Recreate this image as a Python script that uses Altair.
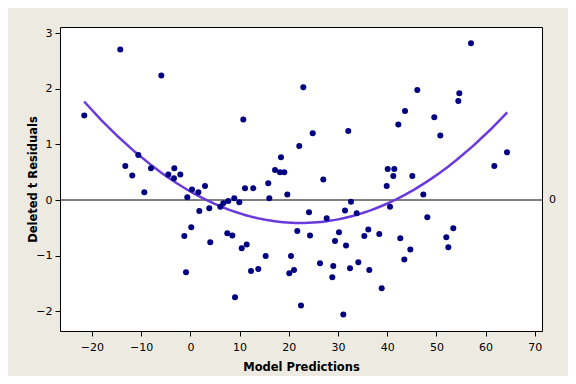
import altair as alt
import pandas as pd

# Scatter data: model predictions (x) and deleted t residuals (y)
pred = [-14.25, -5.91, -21.57, -10.59, -13.23, -8.01, -3.27, -11.81, -4.49, -3.33,
        -2.05, -9.37, 0.33, 1.61, 2.97, -0.63, 1.81, 3.84, 6.08, 6.69,
        7.70, 0.18, -1.24, 4.04, 7.50, -0.89, 18.41, 17.20, 18.21, 19.09,
        15.83, 11.10, 12.78, 16.04, 19.70, 27.01, 40.10, 39.90, 8.92, 9.94,
        32.64, 31.42, 33.80, 24.11, 27.70, 40.57, 8.52, 21.73, 24.31, 30.20,
        29.39, 31.63, 36.16, 35.35, 38.39, 10.43, 11.44, 15.30, 20.45, 26.34,
        29.04, 32.44, 34.13, 36.36, 12.32, 13.80, 20.10, 21.06, 28.84, 38.88,
        9.07, 22.48, 31.08, 22.95, 10.75, 24.86, 32.09, 22.13, 57.03, 46.12,
        54.65, 54.45, 43.62, 42.26, 49.57, 50.79, 64.35, 61.77, 41.44, 41.24,
        45.10, 47.34, 48.15, 42.66, 53.43, 52.01, 52.42, 44.70, 43.48]
resid = [2.71, 2.24, 1.52, 0.81, 0.61, 0.57, 0.57, 0.44, 0.46, 0.39,
         0.46, 0.14, 0.19, 0.14, 0.25, 0.05, -0.20, -0.15, -0.12, -0.06,
         -0.02, -0.49, -0.65, -0.76, -0.60, -1.30, 0.77, 0.54, 0.50, 0.50,
         0.30, 0.21, 0.21, 0.03, 0.10, 0.37, 0.56, 0.25, 0.03, -0.04,
         -0.03, -0.19, -0.24, -0.22, -0.33, -0.12, -0.64, -0.56, -0.64, -0.58,
         -0.74, -0.82, -0.53, -0.65, -0.61, -0.87, -0.80, -1.01, -1.01, -1.14,
         -1.19, -1.23, -1.12, -1.26, -1.28, -1.24, -1.32, -1.26, -1.39, -1.59,
         -1.75, -1.90, -2.06, 2.03, 1.45, 1.20, 1.24, 0.97, 2.82, 1.98,
         1.92, 1.78, 1.60, 1.36, 1.49, 1.16, 0.86, 0.61, 0.56, 0.43,
         0.43, 0.10, -0.31, -0.69, -0.51, -0.67, -0.85, -0.89, -1.07]

# Fitted curve, points (smoothed by a quadratic fit)
curve_x = [-21.6, -10.65, -3.5, 1.95, 6.0, 12.7, 21.7, 28.4, 33.0, 40.6, 47.3, 51.3, 56.8, 64.4]
curve_y = [1.75, 0.81, 0.40, 0.09, -0.12, -0.32, -0.45, -0.42, -0.25, -0.05, 0.32, 0.54, 0.90, 1.58]

x_ticks = [-20, -10, 0, 10, 20, 30, 40, 50, 60, 70]
y_ticks = [-2, -1, 0, 1, 2, 3]

pts = pd.DataFrame({"x": pred, "y": resid})
crv = pd.DataFrame({"x": curve_x, "y": curve_y})

FONT = "DejaVu Sans"
W, H = 482, 304

xscale = alt.Scale(domain=[-26.5, 71.46], nice=False, zero=False)
yscale = alt.Scale(domain=[-2.358, 3.114], nice=False, zero=False)

xaxis = alt.Axis(values=x_ticks, format="d", title="Model Predictions", grid=False, domain=False,
                 tickColor="black", tickSize=5, labelFont=FONT, labelFontSize=11,
                 labelColor="black", titleFont=FONT, titleFontSize=11.5,
                 titleFontWeight="bold", titleColor="black", labelPadding=5,
                 titlePadding=9)
yaxis = alt.Axis(values=y_ticks, format="d", title="Deleted t Residuals", grid=False, domain=False,
                 tickColor="black", tickSize=5, labelFont=FONT, labelFontSize=11,
                 labelColor="black", titleFont=FONT, titleFontSize=11.5,
                 titleFontWeight="bold", titleColor="black", labelPadding=3,
                 titlePadding=-3)

points = alt.Chart(pts).mark_circle(color="#000080", opacity=1, size=36).encode(
    x=alt.X("x:Q", scale=xscale, axis=xaxis),
    y=alt.Y("y:Q", scale=yscale, axis=yaxis),
)

zero = alt.Chart(pd.DataFrame({"y": [0]})).mark_rule(color="black", strokeWidth=1).encode(
    y=alt.Y("y:Q", scale=yscale)
)

zero_label = alt.Chart(pd.DataFrame({"y": [0], "t": ["0"]})).mark_text(
    font=FONT, fontSize=11, color="black", align="left", baseline="middle"
).encode(
    x=alt.value(W + 7),
    y=alt.Y("y:Q", scale=yscale),
    text="t:N",
)

line = alt.Chart(crv).transform_regression(
    "x", "y", method="poly", order=2, extent=[curve_x[0], curve_x[-1]]
).mark_line(color="#6A3ADC", strokeWidth=2.5).encode(
    x=alt.X("x:Q", scale=xscale),
    y=alt.Y("y:Q", scale=yscale),
)

chart = alt.layer(zero, line, points, zero_label).properties(
    width=W, height=H,
    autosize=alt.AutoSizeParams(type="none"),
    padding={"left": 52, "top": 19, "right": 26, "bottom": 45},
    background="#EDEAE2",
).configure_view(stroke="black", strokeWidth=1, fill="white")

chart.save("out.html", embed_options={"renderer": "svg", "actions": False})
